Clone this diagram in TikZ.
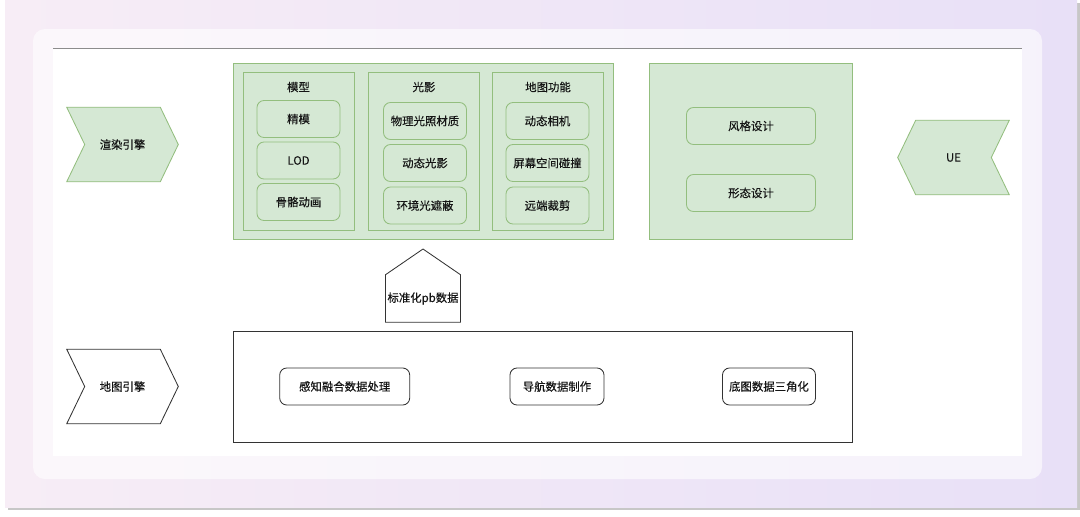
\documentclass[tikz,border=0pt]{standalone}
\usepackage{fontspec}
\setmainfont{Noto Sans CJK SC}
\usetikzlibrary{positioning}

\definecolor{cardpink}{HTML}{F7EDF6}
\definecolor{cardlilac}{HTML}{E8E0F7}
\definecolor{grnfill}{HTML}{D5E8D4}
\definecolor{grnline}{HTML}{93BE7E}
\definecolor{inktext}{HTML}{141414}

\pgfdeclarelayer{back}
\pgfsetlayers{back,main}

\tikzset{
  every node/.style={font=\fontsize{8.1}{9}\selectfont\addfontfeature{FakeBold=0.25}, text=inktext},
  grpbox/.style={draw=grnline, fill=grnfill, line width=0.6pt, minimum height=4.4cm},
  colbox/.style={draw=grnline, line width=0.6pt, minimum width=2.775cm, minimum height=3.95cm},
  greenitem/.style={draw=grnline, line width=0.6pt, rounded corners=5pt, minimum width=2.075cm, minimum height=0.925cm},
  blackitem/.style={draw=black!80, line width=0.6pt, rounded corners=5pt, minimum height=0.925cm},
  chevbox/.style={inner sep=0pt, minimum width=2.775cm, minimum height=1.85cm},
}

\begin{document}
\begin{tikzpicture}[x=0.025cm,y=-0.025cm]
  \useasboundingbox (0,0) rectangle (1080,516);
  % backdrop
  \begin{pgfonlayer}{back}
    \fill[white] (0,0) rectangle (1080,516);
    \fill[black!22] (8,3) rectangle (1080,510);
    \shade[left color=cardpink, right color=cardlilac] (5,0) rectangle (1077,507);
    \fill[white, opacity=0.6, rounded corners=0.3cm] (33,29) rectangle (1042,479);
    \fill[white] (53,48) rectangle (1022,456);
    \draw[black!45, line width=0.5pt] (53,48) -- (1022,48);
  \end{pgfonlayer}

  % render engine group
  \node[grpbox, minimum width=9.5cm] (grp1) at (423,151) {};
  \node[colbox] (col1) at (298.5,151) {};
  \node[colbox] (col2) at (424,151) {};
  \node[colbox] (col3) at (548,151) {};
  % model
  \node (model) at (298.5,87) {模型};
  \node[greenitem] (fine) at (298.5,119) {精模};
  \node[greenitem] (lod) at (298.5,160.5) {LOD};
  \node[greenitem] (skel) at (298.5,202) {骨骼动画};
  % light
  \node (light) at (424,87) {光影};
  \node[greenitem] (pbr) at (425,121) {物理光照材质};
  \node[greenitem] (dynlight) at (425,163) {动态光影};
  \node[greenitem] (ao) at (425,205.5) {环境光遮蔽};
  % map functions
  \node (mapfn) at (548,87) {地图功能};
  \node[greenitem] (cam) at (547.5,121) {动态相机};
  \node[greenitem] (collide) at (547.5,163) {屏幕空间碰撞};
  \node[greenitem] (cull) at (547.5,205.5) {远端裁剪};

  % design group
  \node[grpbox, minimum width=5.075cm] (grp2) at (751,151) {};
  \node[greenitem, minimum width=3.225cm] (style) at (751,126) {风格设计};
  \node[greenitem, minimum width=3.225cm] (form) at (751,193) {形态设计};

  % chevrons
  \node[chevbox] (render) at (122.5,144.5) {渲染引擎};
  \node[chevbox] (ue) at (953.5,157.5) {UE};
  \node[chevbox] (mapeng) at (122.5,386.5) {地图引擎};
  \begin{pgfonlayer}{back}
    \draw[grnline, fill=grnfill, line width=0.6pt] (render.north west) -- ([shift={(-18,0)}]render.north east)
      -- (render.east) -- ([shift={(-18,0)}]render.south east) -- (render.south west)
      -- ([shift={(18,0)}]render.west) -- cycle;
    \draw[grnline, fill=grnfill, line width=0.6pt] ([shift={(18,0)}]ue.north west) -- (ue.north east)
      -- ([shift={(-18,0)}]ue.east) -- (ue.south east) -- ([shift={(18,0)}]ue.south west)
      -- (ue.west) -- cycle;
    \draw[black!80, fill=white, line width=0.6pt] (mapeng.north west) -- ([shift={(-18,0)}]mapeng.north east)
      -- (mapeng.east) -- ([shift={(-18,0)}]mapeng.south east) -- (mapeng.south west)
      -- ([shift={(18,0)}]mapeng.west) -- cycle;
  \end{pgfonlayer}

  % pb data
  \node[inner sep=0pt, minimum width=1.86cm, minimum height=1.175cm] (pbdata) at (423,298.5) {标准化pb数据};
  \draw[black!80, line width=0.6pt] (pbdata.south west) -- (pbdata.north west) -- (423,249)
    -- (pbdata.north east) -- (pbdata.south east) -- cycle;

  % map engine group
  \node[draw=black!80, line width=0.6pt, minimum width=15.475cm, minimum height=2.775cm] (grp3) at (543,386.5) {};
  \node[blackitem, minimum width=3.25cm] (fusion) at (344.7,386.5) {感知融合数据处理};
  \node[blackitem, minimum width=2.35cm] (navdata) at (557,386.5) {导航数据制作};
  \node[blackitem, minimum width=2.325cm] (tri) at (769,386.5) {底图数据三角化};
\end{tikzpicture}
\end{document}
